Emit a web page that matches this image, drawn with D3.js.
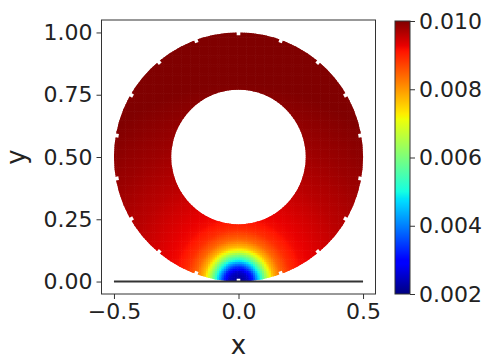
<!DOCTYPE html>
<html>
<head>
<meta charset="utf-8">
<script src="https://cdn.jsdelivr.net/npm/d3@7"></script>
<style>
  body { margin: 0; background: #fff; }
  svg { display: block; font-family: "DejaVu Sans", sans-serif; }
</style>
</head>
<body>
<svg id="chart"></svg>
<script>
// axis ticks
const xTicks = [-0.5, 0.0, 0.5];
const yTicks = [0.0, 0.25, 0.5, 0.75, 1.0];
const cbTicks = [0.002, 0.004, 0.006, 0.008, 0.010];

// annulus geometry (data units)
const ringCenter = [0, 0.5];
const outerR = 0.5;
const innerR = 0.27;
const notchAngles = [10, 30, 50, 70, 90, 110, 130, 150, 170, 190, 210, 230, 250, 270, 290, 310, 330, 350];

// field: value vs distance from the origin (0,0)
const profileDist = [0, 0.04, 0.06, 0.08, 0.10, 0.12, 0.14, 0.17, 0.21, 0.26, 0.35, 0.45, 0.60, 0.80, 1.0];
const profileVal = [0.0020, 0.0025, 0.0033, 0.0045, 0.0057, 0.0068, 0.0077, 0.0084, 0.0089, 0.0092, 0.0094, 0.0096, 0.0098, 0.0100, 0.0100];

// matplotlib jet
const jetR = d3.scaleLinear().domain([0, 0.35, 0.66, 0.89, 1]).range([0, 0, 1, 1, 0.5]).clamp(true);
const jetG = d3.scaleLinear().domain([0, 0.125, 0.375, 0.64, 0.91, 1]).range([0, 0, 1, 1, 0, 0]).clamp(true);
const jetB = d3.scaleLinear().domain([0, 0.11, 0.34, 0.65, 1]).range([0.5, 1, 1, 0, 0]).clamp(true);
const jet = t => d3.rgb(jetR(t) * 255, jetG(t) * 255, jetB(t) * 255).formatHex();

const width = 497, height = 361;
const svg = d3.select("#chart").attr("width", width).attr("height", height);

const x = d3.scaleLinear().domain([-0.55, 0.55]).range([101.5, 375.5]);
const y = d3.scaleLinear().domain([-0.05, 1.05]).range([294, 20]);
const k = x(1) - x(0);

const norm = d3.scaleLinear().domain([0.002, 0.010]).range([0, 1]).clamp(true);
const profile = d3.scaleLinear().domain(profileDist).range(profileVal).clamp(true);

// clip to the annulus
const defs = svg.append("defs");
const arc = d3.arc().innerRadius(innerR * k).outerRadius(outerR * k).startAngle(0).endAngle(2 * Math.PI);
defs.append("clipPath").attr("id", "ring")
  .append("path")
  .attr("transform", `translate(${x(ringCenter[0])},${y(ringCenter[1])})`)
  .attr("d", arc());

// mesh cells
const step = 0.009;
const cells = [];
for (let cx = -outerR; cx <= outerR + 1e-9; cx += step) {
  for (let cy = ringCenter[1] - outerR; cy <= ringCenter[1] + outerR + 1e-9; cy += step) {
    const mx = cx + step / 2, my = cy + step / 2;
    const r = Math.hypot(mx - ringCenter[0], my - ringCenter[1]);
    if (r < innerR - step * 1.5 || r > outerR + step * 1.5) continue;
    cells.push({ x0: cx, y0: cy, v: profile(Math.hypot(mx, my)) });
  }
}

svg.append("g").attr("clip-path", "url(#ring)")
  .selectAll("rect").data(cells).enter().append("rect")
  .attr("x", d => x(d.x0))
  .attr("y", d => y(d.y0 + step))
  .attr("width", x(step) - x(0) + 0.6)
  .attr("height", x(step) - x(0) + 0.6)
  .attr("fill", d => jet(norm(d.v)));

// notches on the outer edge
svg.append("g").selectAll("rect").data(notchAngles).enter().append("rect")
  .attr("x", -1.8).attr("y", -3.2)
  .attr("width", 3.6).attr("height", 6)
  .attr("fill", "#fff")
  .attr("transform", a => {
    const t = a * Math.PI / 180;
    const px = x(ringCenter[0] + outerR * Math.cos(t));
    const py = y(ringCenter[1] + outerR * Math.sin(t));
    return `translate(${px},${py}) rotate(${90 - a})`;
  });

// black line along y = 0
svg.append("line")
  .attr("x1", x(-0.5)).attr("x2", x(0.5))
  .attr("y1", y(0)).attr("y2", y(0))
  .attr("stroke", "#333").attr("stroke-width", 2);

// axes
const fs = 22;
const xAxis = svg.append("g").attr("transform", `translate(0,${y.range()[0]})`)
  .call(d3.axisBottom(x).tickValues(xTicks).tickSize(5).tickPadding(4)
    .tickFormat(d => d3.format(".1f")(d).replace("-", "\u2212")));
const yAxis = svg.append("g").attr("transform", `translate(${x.range()[0]},0)`)
  .call(d3.axisLeft(y).tickValues(yTicks).tickSize(5).tickPadding(4).tickFormat(d3.format(".2f")));
[xAxis, yAxis].forEach(g => {
  g.select(".domain").remove();
  g.selectAll("line").attr("stroke", "#333");
  g.selectAll("text").attr("font-size", fs).attr("fill", "#222").attr("font-family", "DejaVu Sans");
});

svg.append("rect")
  .attr("x", x.range()[0]).attr("y", y.range()[1])
  .attr("width", x.range()[1] - x.range()[0])
  .attr("height", y.range()[0] - y.range()[1])
  .attr("fill", "none").attr("stroke", "#333").attr("stroke-width", 1);

svg.append("text")
  .attr("x", (x.range()[0] + x.range()[1]) / 2).attr("y", 354)
  .attr("text-anchor", "middle").attr("font-size", 26).attr("fill", "#222")
  .text("x");
svg.append("text")
  .attr("transform", `translate(25,${y(0.5)}) rotate(-90)`)
  .attr("text-anchor", "middle").attr("font-size", 26).attr("fill", "#222")
  .text("y");

// colorbar
const cbX = 395, cbW = 15;
const cbY = d3.scaleLinear().domain([0.002, 0.010]).range([294, 21]);
const grad = defs.append("linearGradient").attr("id", "jet")
  .attr("x1", 0).attr("y1", 1).attr("x2", 0).attr("y2", 0);
const stops = [0, 0.11, 0.125, 0.34, 0.35, 0.375, 0.64, 0.65, 0.66, 0.89, 0.91, 1];
grad.selectAll("stop").data(stops).enter().append("stop")
  .attr("offset", d => d).attr("stop-color", d => jet(d));

svg.append("rect")
  .attr("x", cbX).attr("y", cbY.range()[1])
  .attr("width", cbW).attr("height", cbY.range()[0] - cbY.range()[1])
  .attr("fill", "url(#jet)").attr("stroke", "#333").attr("stroke-width", 1);

const cbAxis = svg.append("g").attr("transform", `translate(${cbX + cbW},0)`)
  .call(d3.axisRight(cbY).tickValues(cbTicks).tickSize(5).tickPadding(4).tickFormat(d3.format(".3f")));
cbAxis.select(".domain").remove();
cbAxis.selectAll("line").attr("stroke", "#333");
cbAxis.selectAll("text").attr("font-size", fs).attr("fill", "#222").attr("font-family", "DejaVu Sans");
</script>
</body>
</html>
